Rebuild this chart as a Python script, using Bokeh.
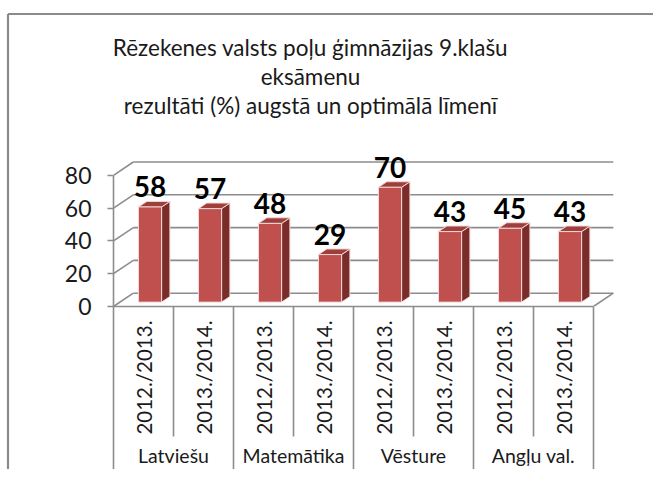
import math
from bokeh.plotting import figure
from bokeh.models import Range1d, FixedTicker, LinearAxis
from bokeh.core.properties import value
from bokeh.embed import file_html
from bokeh.resources import INLINE

# ---- data ----
title_lines = ["Rēzekenes valsts poļu ģimnāzijas 9.klašu",
               "eksāmenu",
               "rezultāti (%) augstā un optimālā līmenī"]
subjects = ["Latviešu", "Matemātika", "Vēsture", "Angļu val."]
years = ["2012./2013.", "2013./2014."]
values = [58, 57, 48, 29, 70, 43, 45, 43]
y_ticks = [0, 20, 40, 60, 80]

# ---- 3D style geometry (in axis units) ----
N = len(values)
FH = 164                     # frame height in pixels (y span 0..100)
PX = FH / 100.0              # pixels per y unit
PXX = 60.0                   # pixels per category
DX, DY = 0.33, 13.3 / PX     # depth offset of the back wall
F, D, W = 0.33, 0.42, 0.385  # bar front depth, bar depth, bar width
X0, Y0 = 113, 306            # frame left / bottom in canvas pixels

FONT = value("Lato")
GRID = "#8c8c8c"
TXT = "#1a1a1a"

p = figure(frame_width=504, frame_height=FH,
           x_range=Range1d(0, 8.4), y_range=Range1d(0, 100),
           x_axis_type=None, y_axis_type=None,
           toolbar_location=None, output_backend="svg",
           min_border_left=X0, min_border_right=36,
           min_border_top=Y0 - FH, min_border_bottom=4)
p.outline_line_color = None
p.background_fill_color = "white"
p.border_fill_color = "white"

# ---- chart-area border (top and left edges) ----
bl = (7.5 - X0) / PXX
bt = (Y0 - 13.5) / PX
p.segment(x0=[bl, bl], y0=[bt, bt], x1=[20, bl], y1=[bt, -300],
          line_color="#8a8a8a", line_width=2.2, level="overlay")

# ---- walls & floor ----
bx0 = [DX] * len(y_ticks)
bx1 = [N + DX] * len(y_ticks)
by = [t + DY for t in y_ticks]
p.segment(x0=bx0, y0=by, x1=bx1, y1=by, line_color=GRID, line_width=1.6)
p.segment(x0=[0] * len(y_ticks), y0=y_ticks, x1=bx0, y1=by, line_color=GRID, line_width=1.6)
p.segment(x0=[N], y0=[0], x1=[N + DX], y1=[DY], line_color=GRID, line_width=1.6)

# ---- bars ----
centers = [i + 0.5 for i in range(N)]
front_x, front_y, side_x, side_y, top_x, top_y = [], [], [], [], [], []
lab_x, lab_y = [], []
for c, v in zip(centers, values):
    x0 = c - W / 2 + F * DX
    x1 = c + W / 2 + F * DX
    y0 = F * DY
    y1 = v + F * DY
    ddx, ddy = D * DX, D * DY
    front_x.append([x0, x1, x1, x0]); front_y.append([y0, y0, y1, y1])
    side_x.append([x1, x1 + ddx, x1 + ddx, x1]); side_y.append([y0, y0 + ddy, y1 + ddy, y1])
    top_x.append([x0, x1, x1 + ddx, x0 + ddx]); top_y.append([y1, y1, y1 + ddy, y1 + ddy])
    lab_x.append((x0 + x1) / 2); lab_y.append(y1 + 20 / PX)

EDGE = "#f3d6d5"
p.patches(side_x, side_y, fill_color="#7a2c2a", line_color=EDGE, line_width=1)
p.patches(top_x, top_y, fill_color="#9e3f3c", line_color=EDGE, line_width=1)
p.patches(front_x, front_y, fill_color="#c0504d", line_color=EDGE, line_width=1)

p.text(x=lab_x, y=lab_y, text=[str(v) for v in values], text_font=FONT,
       text_font_size="28px", text_font_style="bold", text_align="center",
       text_baseline="alphabetic", text_color="#000000", level="overlay")

# ---- y axis ----
ya = LinearAxis(ticker=FixedTicker(ticks=y_ticks, minor_ticks=[]), bounds=(0, 80))
ya.axis_line_color = GRID
ya.axis_line_width = 1.6
ya.major_tick_line_color = GRID
ya.major_tick_line_width = 1.6
ya.major_tick_out = 6
ya.major_tick_in = 0
ya.major_label_standoff = 16
ya.major_label_text_font = "Lato"
ya.major_label_text_font_size = "23px"
ya.major_label_text_color = TXT
p.add_layout(ya, "left")

# ---- category axes (years, then subjects) ----
year_labels = [years[i % 2] for i in range(N)]
xa1 = LinearAxis(ticker=FixedTicker(ticks=centers, minor_ticks=[]), bounds=(0, N))
xa1.major_label_overrides = {c: t for c, t in zip(centers, year_labels)}
xa1.major_label_orientation = math.pi / 2
xa1.axis_line_color = GRID
xa1.axis_line_width = 1.6
xa1.major_tick_line_color = None
xa1.major_tick_out = 0
xa1.major_tick_in = 0
xa1.major_label_standoff = 14
xa1.major_label_text_font = "Lato"
xa1.major_label_text_font_size = "20.5px"
xa1.major_label_text_color = TXT
p.add_layout(xa1, "below")

group_centers = [2 * i + 1 for i in range(len(subjects))]
xa2 = LinearAxis(ticker=FixedTicker(ticks=group_centers, minor_ticks=[]), bounds=(0, N))
xa2.major_label_overrides = {c: s for c, s in zip(group_centers, subjects)}
xa2.axis_line_color = None
xa2.major_tick_line_color = None
xa2.major_tick_out = 0
xa2.major_tick_in = 0
xa2.major_label_standoff = 6
xa2.major_label_text_font = "Lato"
xa2.major_label_text_font_size = "19.5px"
xa2.major_label_text_color = TXT
p.add_layout(xa2, "below")

# ---- category separators below the floor ----
sep_x = list(range(N + 1))
sep_len = [164 / PX if i % 2 == 0 else 130 / PX for i in sep_x]
p.segment(x0=sep_x, y0=[0] * len(sep_x), x1=sep_x, y1=[-l for l in sep_len],
          line_color=GRID, line_width=1.6, level="overlay")

# ---- title (three centred lines) ----
title_x = [(310 - X0) / PXX] * len(title_lines)
title_y = [(Y0 - 47 - 29 * k) / PX for k in range(len(title_lines))]
p.text(x=title_x, y=title_y, text=title_lines, text_align="center",
       text_baseline="middle", text_font=FONT, text_font_size="22.5px",
       text_color=TXT, level="overlay")

open("out.html", "w").write(file_html(p, INLINE))
